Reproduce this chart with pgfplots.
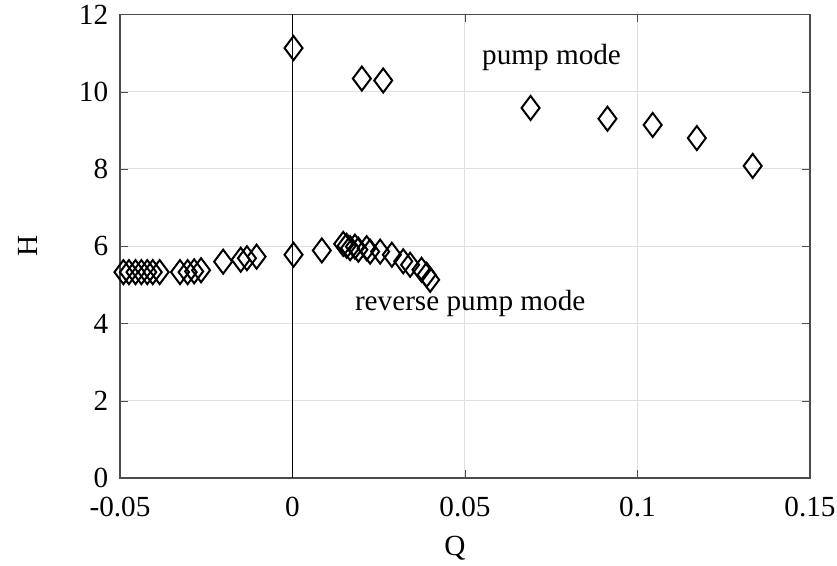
\documentclass[border=0pt]{standalone}
\usepackage{pgfplots}
\pgfplotsset{compat=1.18}
\usepackage{fontspec}
\setmainfont{Liberation Serif}
\begin{document}
\fontsize{14.2}{17}\selectfont
\begin{tikzpicture}
\begin{axis}[
  scale only axis,
  width=345pt, height=231.75pt,
  xmin=-0.05, xmax=0.15, ymin=0, ymax=12,
  xtick={-0.05,0,0.05,0.1,0.15},
  xticklabels={-0.05,0,0.05,0.1,0.15},
  ytick={0,2,4,6,8,10,12},
  /pgf/number format/assume math mode=true,
  tick label style={font=\fontsize{14.6}{17}\selectfont},
  label style={font=\fontsize{14.6}{17}\selectfont},
  xlabel={Q}, ylabel={H},
  xlabel style={at={(rel axis cs:0.4855,-0.151)}, anchor=center},
  ylabel style={at={(rel axis cs:-0.1333,0.5)}, anchor=center, rotate=0},
  xticklabel style={yshift=-4.5pt},
  yticklabel style={xshift=-1pt},
  grid=major,
  major grid style={gray!25, line width=0.5pt},
  tick align=inside,
  major tick length=4pt,
  axis line style={line width=0.6pt, black!70},
  tick style={black!70},
  clip=false,
]
\addplot[black, line width=0.7pt, forget plot] coordinates {(0,0) (0,12)};
\addplot[only marks, mark=diamond, mark size=6pt, mark options={line width=1pt, fill=white, draw=black}] coordinates {
(0.0003,11.13) (0.0201,10.34) (0.0263,10.29)
(0.069,9.58) (0.0913,9.30) (0.1044,9.14) (0.1172,8.80) (0.1334,8.08)
};
\addplot[only marks, mark=diamond, mark size=6pt, mark options={line width=1pt, draw=black, fill=none}] coordinates {
(-0.0490,5.33) (-0.0474,5.33) (-0.0455,5.33) (-0.0438,5.33) (-0.0421,5.33) (-0.0405,5.33) (-0.0385,5.33)
(-0.0326,5.33) (-0.0304,5.33) (-0.0285,5.35) (-0.0265,5.38)
(-0.0201,5.60) (-0.0150,5.65) (-0.0132,5.69) (-0.0104,5.73)
(0.0003,5.78) (0.0085,5.89)
(0.0147,6.06) (0.0157,6.01) (0.0167,5.95) (0.0181,5.99) (0.0191,5.91) (0.0215,5.95) (0.0225,5.86)
(0.0254,5.86) (0.0288,5.78) (0.0321,5.61) (0.0341,5.52) (0.0374,5.39) (0.0389,5.26) (0.0399,5.13)
};
\node[font=\fontsize{14.6}{17}\selectfont] at (axis cs:0.0751,10.88) {pump mode};
\node[font=\fontsize{14.6}{17}\selectfont] at (axis cs:0.0515,4.53) {reverse pump mode};
\coordinate (bbSW) at (axis cs:-0.08478,-2.278);
\coordinate (bbNE) at (axis cs:0.15783,12.375);
\end{axis}
\pgfresetboundingbox
\path[use as bounding box] (bbSW) rectangle (bbNE);
\end{tikzpicture}
\end{document}
